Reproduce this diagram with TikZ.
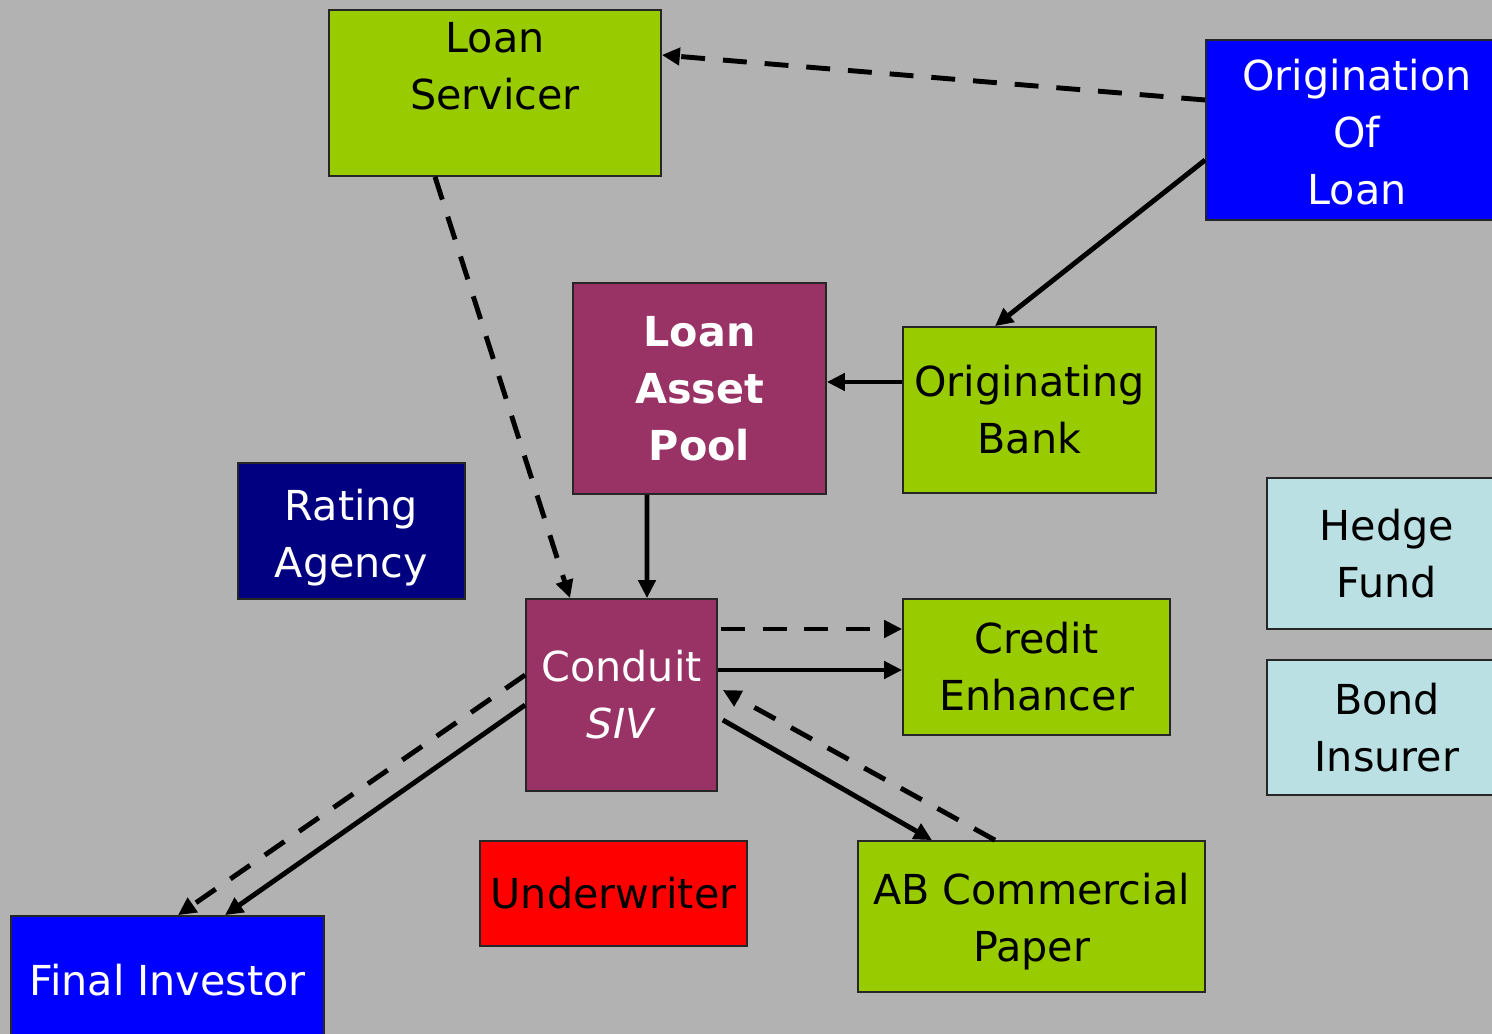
\documentclass[tikz,border=0pt]{standalone}
\usepackage{fontspec}
\setmainfont{DejaVu Sans}
\usetikzlibrary{arrows.meta,calc}

\definecolor{slide}{HTML}{B2B2B2}
\definecolor{leaf}{HTML}{99CC00}
\definecolor{plum}{HTML}{993366}
\definecolor{royal}{HTML}{0000FF}
\definecolor{navy}{HTML}{000080}
\definecolor{alarm}{HTML}{FF0000}
\definecolor{ice}{HTML}{BBE0E3}

\newcommand{\boxfont}{\fontsize{23.5}{32.4}\selectfont}
\newcommand{\sink}[2]{\raisebox{-#1}[\height][\depth]{#2}}

\begin{document}
\begin{tikzpicture}[
    x=0.02cm, y=-0.02cm,
    box/.style={rectangle, draw=black!85, line width=1pt, inner sep=0pt, align=center, font=\boxfont},
    flow/.style={-{Triangle[length=0.36cm, width=0.34cm]}, line width=2.8pt},
    hint/.style={flow, dash pattern=on 13.6pt off 10.2pt}
  ]

    \clip (0,0) rectangle (1492,1034);
    \fill[slide] (0,0) rectangle (1492,1034);

    % Top: servicer and origination
    \node[box, fill=leaf, minimum width=6.64cm, minimum height=3.32cm,
      label={[align=center, font=\boxfont, yshift=0.53cm]center:Loan\\Servicer}] (servicer) at (495,93) {};

    \node[box, fill=royal, text=white, minimum width=6.04cm, minimum height=3.6cm] (origin) at (1357,130) {
      \sink{0.04cm}{Origination}\\\sink{0.04cm}{Of}\\\sink{0.04cm}{Loan}
    };

    % Middle: pool, bank, agency, side boxes
    \node[box, fill=plum, text=white, font=\boxfont\bfseries, minimum width=5.06cm, minimum height=4.22cm] (pool) at (699.5,388.5) {
      Loan\\Asset\\Pool
    };

    \node[box, fill=leaf, minimum width=5.06cm, minimum height=3.32cm] (bank) at (1029.5,410) {
      Originating\\Bank
    };

    \node[box, fill=navy, text=white, minimum width=4.54cm, minimum height=2.72cm] (rating) at (351.5,531) {
      \sink{0.14cm}{Rating}\\\sink{0.14cm}{Agency}
    };

    \node[box, fill=ice, minimum width=4.8cm, minimum height=3.02cm] (hedge) at (1387,553.5) {
      Hedge\\Fund
    };

    \node[box, fill=ice, minimum width=4.8cm, minimum height=2.7cm] (insurer) at (1387,727.5) {
      Bond\\Insurer
    };

    % Conduit and its partners
    \node[box, fill=plum, text=white, minimum width=3.82cm, minimum height=3.84cm] (conduit) at (621.5,695) {
      Conduit\\\textit{SIV}
    };

    \node[box, fill=leaf, minimum width=5.34cm, minimum height=2.72cm] (enhancer) at (1036.5,667) {
      Credit\\Enhancer
    };

    % Bottom row
    \node[box, fill=alarm, minimum width=5.34cm, minimum height=2.1cm] (underwriter) at (613.5,893.5) {Underwriter};

    \node[box, fill=leaf, minimum width=6.94cm, minimum height=3.02cm] (paper) at (1031.5,916.5) {
      \sink{0.1cm}{AB Commercial}\\\sink{0.1cm}{Paper}
    };

    \node[box, fill=royal, text=white, minimum width=6.26cm, minimum height=2.56cm] (investor) at (167.5,980) {Final Investor};

    % Relations
    \draw[hint] ($(origin.west)+(0,-30)$) -- ($(servicer.east)+(0,-38)$);
    \draw[flow] ($(origin.west)+(0,30)$) -- ($(bank.north)+(-34.5,0)$);
    \draw[flow] ($(bank.west)+(0,-28)$) -- ($(pool.east)+(0,-6.5)$);
    \draw[flow] ($(pool.south)+(-52.5,0)$) -- ($(conduit.north)+(25.5,0)$);
    \draw[hint] ($(servicer.south)+(-60,0)$) -- ($(conduit.north)+(-51.5,0)$);

    \draw[hint] ($(conduit.east)+(3,-66)$) -- ($(enhancer.west)+(0,-38)$);
    \draw[flow] ($(conduit.east)+(0,-25)$) -- ($(enhancer.west)+(0,3)$);
    \draw[flow] ($(conduit.east)+(5,25)$) -- ($(paper.north)+(-99.5,0)$);
    \draw[hint] ($(paper.north)+(-36.5,0)$) -- ($(conduit.east)+(5,-5)$);

    % Conduit down to the investor
    \draw[hint] ($(conduit.west)+(0,-20)$) -- ($(investor.north)+(10.5,0)$);
    \draw[flow] ($(conduit.west)+(0,10)$) -- ($(investor.north)+(57.5,0)$);
  \end{tikzpicture}
\end{document}
